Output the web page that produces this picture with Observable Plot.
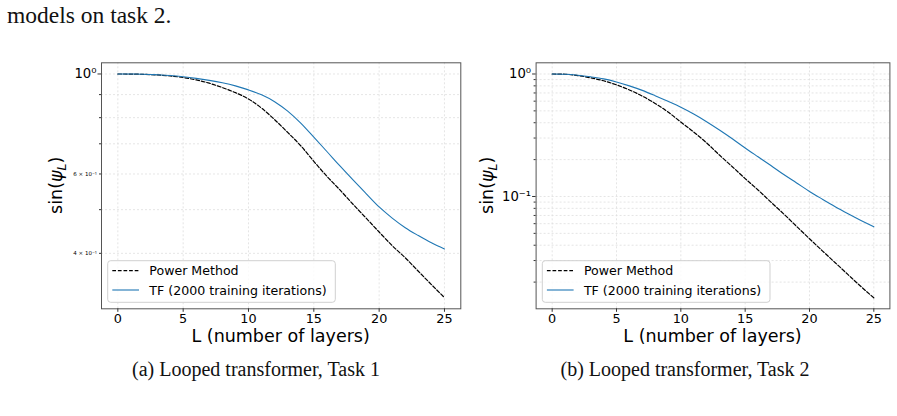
<!DOCTYPE html>
<html>
<head>
<meta charset="utf-8">
<script src="https://cdn.jsdelivr.net/npm/d3@7"></script>
<script src="https://cdn.jsdelivr.net/npm/@observablehq/plot@0.6"></script>
<style>
  body { margin: 0; background: #fff; }
  #page { position: relative; width: 897px; height: 416px; overflow: hidden; }
  #page > svg { position: absolute; top: 0; }
  #captions { left: 0; pointer-events: none; }
</style>
</head>
<body>
<div id="page"></div>
<script>
// Layer index L (shared by both tasks)
const layers = [0, 1, 2, 3, 4, 5, 6, 7, 8, 9, 10, 11, 12, 13, 14, 15, 16, 17, 18, 19, 20, 21, 22, 23, 24, 25];

// Task 1: sin(psi_L) per layer
const task1Power = [1.000, 0.9995, 0.998, 0.995, 0.990, 0.982, 0.970, 0.954, 0.933, 0.909, 0.880, 0.840, 0.792,
                    0.742, 0.693, 0.640, 0.593, 0.553, 0.514, 0.479, 0.446, 0.416, 0.391, 0.365, 0.341, 0.319];
const task1TF    = [1.000, 0.9997, 0.999, 0.996, 0.992, 0.986, 0.978, 0.968, 0.956, 0.941, 0.922, 0.899, 0.868,
                    0.827, 0.778, 0.724, 0.673, 0.625, 0.582, 0.543, 0.507, 0.479, 0.456, 0.438, 0.422, 0.409];

// Task 2: sin(psi_L) per layer
const task2Power = [1.000, 0.995, 0.970, 0.930, 0.880, 0.815, 0.741, 0.660, 0.575, 0.490, 0.405, 0.336, 0.274,
                    0.218, 0.175, 0.140, 0.113, 0.090, 0.072, 0.057, 0.0452, 0.0360, 0.0288, 0.0230, 0.0184, 0.0149];
const task2TF    = [1.000, 0.995, 0.977, 0.948, 0.912, 0.861, 0.800, 0.735, 0.665, 0.598, 0.535, 0.471, 0.408,
                    0.349, 0.296, 0.249, 0.211, 0.179, 0.151, 0.129, 0.110, 0.0951, 0.0826, 0.0724, 0.0638, 0.0565];

// Axis ticks and labels
const xTicks = [0, 5, 10, 15, 20, 25];
const task1Major = [1];
const task1MajorLabels = ["10⁰"];
const task1Minor = [0.4, 0.5, 0.6, 0.7, 0.8, 0.9];
const task1MinorLabeled = [0.6, 0.4];
const task1MinorLabels = ["6 × 10⁻¹", "4 × 10⁻¹"];
const task2Major = [1, 0.1];
const task2MajorLabels = ["10⁰", "10⁻¹"];
const task2Minor = [0.02, 0.03, 0.04, 0.05, 0.06, 0.07, 0.08, 0.09, 0.2, 0.3, 0.4, 0.5, 0.6, 0.7, 0.8, 0.9];

const seriesNames = ["Power Method", "TF (2000 training iterations)"];
const xLabel = "L (number of layers)";
const captionText = "models on task 2.";
const subCaptions = ["(a) Looped transformer, Task 1", "(b) Looped transformer, Task 2"];

const BLUE = "#1f77b4";
const FONT = "DejaVu Sans";
const DASH = "3.7,1.9";
const H = 360, TOP = 62.3, BOTTOM = 308.3;

const page = document.getElementById("page");

function panel(cfg) {
  const power = layers.map((L, i) => ({L, v: cfg.power[i]}));
  const tf = layers.map((L, i) => ({L, v: cfg.tf[i]}));
  const grid = {stroke: "#dedede", strokeOpacity: 1, strokeWidth: 0.8, strokeDasharray: "2,2"};
  const majorFmt = d => cfg.majorLabels[cfg.major.indexOf(d)];
  const minorFmt = d => {
    const k = (cfg.minorLabeled || []).indexOf(d);
    return k >= 0 ? cfg.minorLabels[k] : "";
  };
  const chart = Plot.plot({
    width: cfg.width,
    height: H,
    marginLeft: cfg.marginLeft,
    marginRight: cfg.marginRight,
    marginTop: TOP,
    marginBottom: H - BOTTOM,
    style: {fontFamily: FONT, color: "#000", background: "transparent", overflow: "visible"},
    x: {domain: [-1.25, 26.25]},
    y: {type: "log", domain: cfg.yDomain},
    marks: [
      Plot.gridX(xTicks, grid),
      Plot.gridY(cfg.major.concat(cfg.minor), grid),
      Plot.line(power, {x: "L", y: "v", stroke: "#000", strokeWidth: 1.2, strokeDasharray: DASH, curve: "monotone-x"}),
      Plot.line(tf, {x: "L", y: "v", stroke: BLUE, strokeWidth: 1.1, curve: "monotone-x"}),
      Plot.frame({stroke: "#555", strokeWidth: 1}),
      Plot.axisX(xTicks, {tickSize: 3.5, tickPadding: 1.5, fontSize: 12.8, label: null, stroke: "#333"}),
      Plot.axisY(cfg.major, {tickSize: 3.5, tickPadding: 1.5, fontSize: 13.2, label: null, tickFormat: majorFmt, stroke: "#333"}),
      Plot.axisY(cfg.minor, {tickSize: 2, tickPadding: 2.5, fontSize: 5.5, label: null, tickFormat: minorFmt, stroke: "#333"})
    ]
  });
  chart.style.left = cfg.left + "px";
  page.appendChild(chart);

  const svg = d3.select(chart);
  const plotLeft = cfg.marginLeft, plotRight = cfg.width - cfg.marginRight;

  // axis titles
  svg.append("text")
    .attr("x", (plotLeft + plotRight) / 2).attr("y", 341.5)
    .attr("text-anchor", "middle").attr("font-family", FONT).attr("font-size", 17.5).attr("fill", "#000")
    .text(xLabel);
  const yl = svg.append("text")
    .attr("transform", `translate(${cfg.yLabelX},${(TOP + BOTTOM) / 2}) rotate(-90)`)
    .attr("text-anchor", "middle").attr("font-family", FONT).attr("font-size", 17.5).attr("fill", "#000");
  yl.append("tspan").text("sin(");
  yl.append("tspan").attr("font-style", "italic").text("ψ");
  yl.append("tspan").attr("font-style", "italic").attr("font-size", 12.5).attr("dy", 4).text("L");
  yl.append("tspan").attr("dy", -4).text(")");

  // legend
  const lg = cfg.legend;
  const g = svg.append("g").attr("transform", `translate(${lg.x},${lg.y})`);
  g.append("rect").attr("width", lg.w).attr("height", 41.6).attr("rx", 3)
    .attr("fill", "#fff").attr("fill-opacity", 0.8).attr("stroke", "#d0d0d0").attr("stroke-width", 1);
  const rows = [
    {y: 10, stroke: "#000", dash: DASH, w: 1.2},
    {y: 29.3, stroke: BLUE, dash: "none", w: 1.1}
  ];
  rows.forEach((r, i) => {
    g.append("line").attr("x1", 4.6).attr("x2", 31.3).attr("y1", r.y).attr("y2", r.y)
      .attr("stroke", r.stroke).attr("stroke-width", r.w).attr("stroke-dasharray", r.dash);
    g.append("text").attr("x", 41.6).attr("y", r.y).attr("dy", "0.36em").attr("text-anchor", "start")
      .attr("font-family", FONT).attr("font-size", 12.6).attr("fill", "#000").text(seriesNames[i]);
  });
}

// Task 1 panel
panel({
  left: 0, width: 470, marginLeft: 101, marginRight: 9.7,
  yDomain: [0.3013, 1.0588],
  power: task1Power, tf: task1TF,
  major: task1Major, majorLabels: task1MajorLabels,
  minor: task1Minor, minorLabeled: task1MinorLabeled, minorLabels: task1MinorLabels,
  yLabelX: 62,
  legend: {x: 107.7, y: 260.7, w: 227.6}
});

// Task 2 panel
panel({
  left: 470, width: 427, marginLeft: 65.6, marginRight: 7.6,
  yDomain: [0.01211, 1.234],
  power: task2Power, tf: task2TF,
  major: task2Major, majorLabels: task2MajorLabels,
  minor: task2Minor,
  yLabelX: 23,
  legend: {x: 72.3, y: 260.7, w: 227.7}
});

// Figure text
const caps = d3.select(page).append("svg").attr("id", "captions")
  .attr("width", 897).attr("height", 416);
caps.append("text").attr("x", 7).attr("y", 23)
  .attr("font-family", "Liberation Serif").attr("font-size", 23.5).attr("fill", "#111")
  .text(captionText);
[256, 685].forEach((cx, i) => {
  caps.append("text").attr("x", cx).attr("y", 376).attr("text-anchor", "middle")
    .attr("font-family", "Liberation Serif").attr("font-size", 20).attr("fill", "#111")
    .text(subCaptions[i]);
});
</script>
</body>
</html>
